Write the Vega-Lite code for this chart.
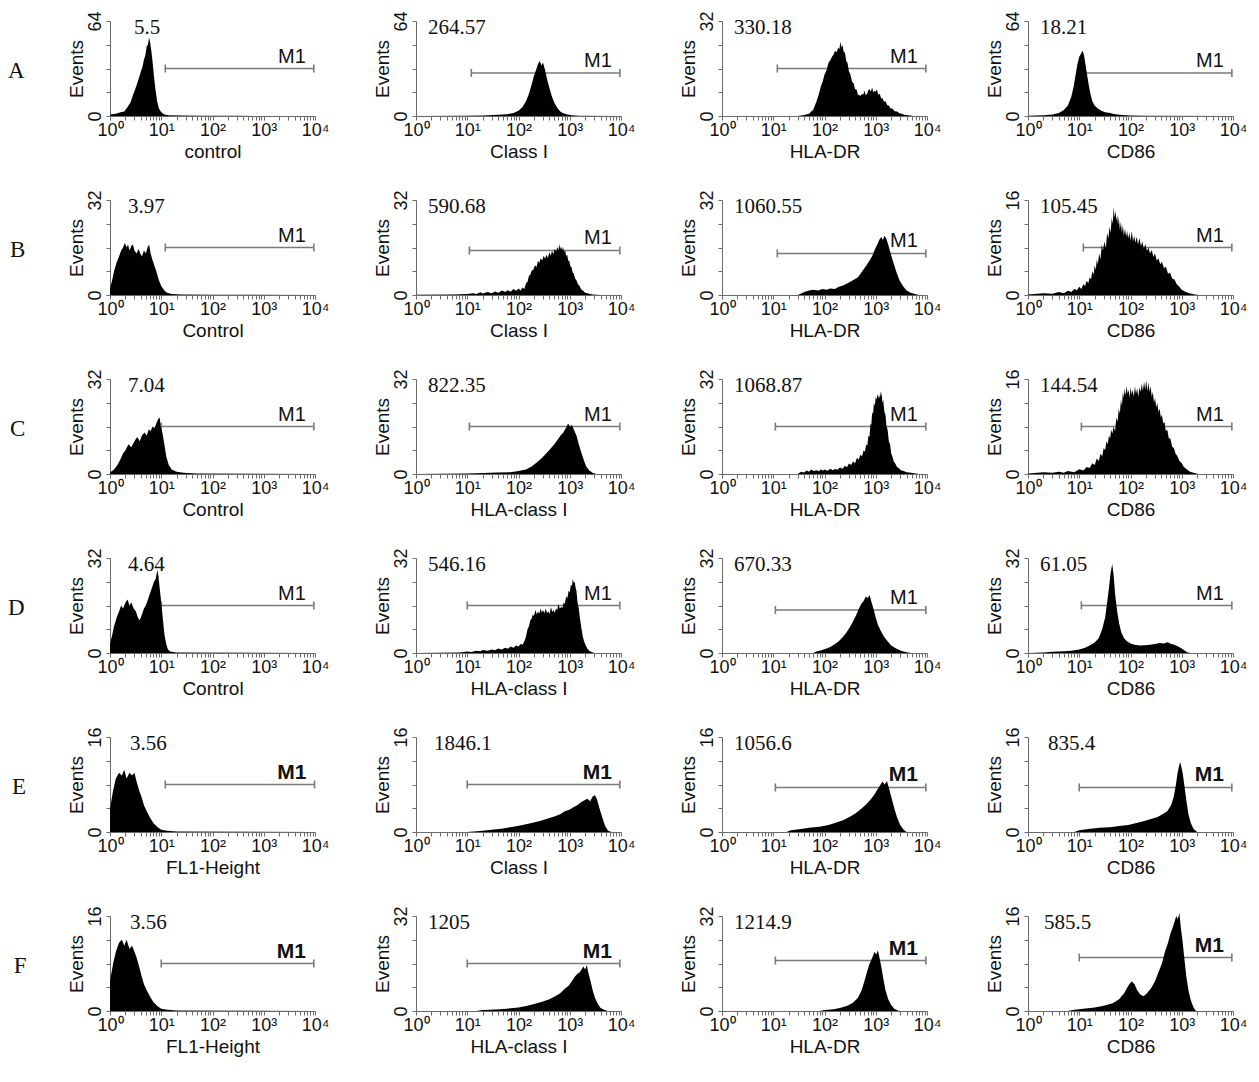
{
"$schema":"https://vega.github.io/schema/vega-lite/v6.json",
"background":"white",
"padding":{"left":8,"top":10,"right":5,"bottom":5},
"spacing":28,
"config":{
 "view":{"stroke":null},
 "concat":{"spacing":44},
 "area":{"color":"#000","interpolate":"linear","opacity":1},
 "line":{"color":"#7a7a7a","strokeWidth":1.6},
 "point":{"shape":"M0,-1L0,1","filled":false,"color":"#7a7a7a","size":64,"strokeWidth":1.6,"opacity":1},
 "text":{"align":"right","baseline":"alphabetic","dx":-8,"dy":-6,"font":"Liberation Sans","fontSize":20,"color":"#111"},
 "title":{"font":"Liberation Serif","fontSize":21,"fontWeight":"normal","anchor":"start","frame":"group","color":"#111","offset":-27,"dx":12},
 "axis":{"grid":false,"domainColor":"#6a6a6a","tickColor":"#6a6a6a","tickSize":4,"labelFont":"Liberation Sans","labelFontSize":18,"labelColor":"#111","titleFont":"Liberation Sans","titleFontSize":19,"titleFontWeight":"normal","titleColor":"#111","labelFlush":false,"labelOverlap":false},
 "axisX":{"tickCount":10,"labelPadding":1,"titlePadding":3,"labelExpr":"abs(log(datum.value)/LN10 - round(log(datum.value)/LN10)) < 0.001 ? '10' + ['⁰','¹','²','³','⁴'][round(log(datum.value)/LN10)] : ''"},
 "axisY":{"labelAngle":-90,"labelPadding":2,"titlePadding":0,"labelExpr":"datum.index == 0 || datum.index == 1 ? datum.label : ''"}
},
"datasets":{
"g":[
{"p":"A1","x":12,"y":32},{"p":"A1","x":9500,"y":32,"t":"M1"},
{"p":"A2","x":12,"y":29},{"p":"A2","x":9500,"y":29,"t":"M1"},
{"p":"A3","x":12,"y":16},{"p":"A3","x":9500,"y":16,"t":"M1"},
{"p":"A4","x":12,"y":29},{"p":"A4","x":9500,"y":29,"t":"M1"},
{"p":"B1","x":12,"y":16},{"p":"B1","x":9500,"y":16,"t":"M1"},
{"p":"B2","x":11,"y":15},{"p":"B2","x":9500,"y":15,"t":"M1"},
{"p":"B3","x":12,"y":14},{"p":"B3","x":9500,"y":14,"t":"M1"},
{"p":"B4","x":12,"y":8},{"p":"B4","x":9500,"y":8,"t":"M1"},
{"p":"C1","x":10,"y":16},{"p":"C1","x":9500,"y":16,"t":"M1"},
{"p":"C2","x":11,"y":16},{"p":"C2","x":9500,"y":16,"t":"M1"},
{"p":"C3","x":11,"y":16},{"p":"C3","x":9500,"y":16,"t":"M1"},
{"p":"C4","x":11,"y":8},{"p":"C4","x":9500,"y":8,"t":"M1"},
{"p":"D1","x":10,"y":16},{"p":"D1","x":9500,"y":16,"t":"M1"},
{"p":"D2","x":10,"y":16},{"p":"D2","x":9500,"y":16,"t":"M1"},
{"p":"D3","x":11,"y":14.5},{"p":"D3","x":9500,"y":14.5,"t":"M1"},
{"p":"D4","x":11,"y":16},{"p":"D4","x":9500,"y":16,"t":"M1"},
{"p":"E1","x":12,"y":8},{"p":"E1","x":9800,"y":8,"t":"M1"},
{"p":"E2","x":10,"y":8},{"p":"E2","x":9500,"y":8,"t":"M1"},
{"p":"E3","x":11,"y":7.5},{"p":"E3","x":9500,"y":7.5,"t":"M1"},
{"p":"E4","x":10,"y":7.5},{"p":"E4","x":9500,"y":7.5,"t":"M1"},
{"p":"F1","x":10,"y":8},{"p":"F1","x":9500,"y":8,"t":"M1"},
{"p":"F2","x":10,"y":16},{"p":"F2","x":9500,"y":16,"t":"M1"},
{"p":"F3","x":11,"y":17},{"p":"F3","x":9500,"y":17,"t":"M1"},
{"p":"F4","x":10,"y":9},{"p":"F4","x":9500,"y":9,"t":"M1"}
],
"h":[
{"p":"A1","x":1,"y":1},{"p":"A1","x":1.3,"y":1.5},{"p":"A1","x":1.6,"y":2.5},{"p":"A1","x":1.9,"y":3},{"p":"A1","x":2.2,"y":6},{"p":"A1","x":2.5,"y":9},{"p":"A1","x":2.8,"y":14},{"p":"A1","x":3.1,"y":18},{"p":"A1","x":3.4,"y":22},{"p":"A1","x":3.7,"y":26},{"p":"A1","x":4,"y":30},{"p":"A1","x":4.3,"y":33},{"p":"A1","x":4.6,"y":38},{"p":"A1","x":4.9,"y":41},{"p":"A1","x":5.2,"y":47},{"p":"A1","x":5.5,"y":48},{"p":"A1","x":5.8,"y":53},{"p":"A1","x":6.1,"y":49},{"p":"A1","x":6.4,"y":44},{"p":"A1","x":6.8,"y":36},{"p":"A1","x":7.2,"y":27},{"p":"A1","x":7.7,"y":18},{"p":"A1","x":8.3,"y":10},{"p":"A1","x":9,"y":5},{"p":"A1","x":10,"y":2.5},{"p":"A1","x":11.5,"y":1},{"p":"A1","x":14,"y":0.5},{"p":"A1","x":25,"y":0.3},{"p":"A1","x":60,"y":0.2},{"p":"A1","x":300,"y":0.1},{"p":"A1","x":10000,"y":0},
{"p":"A2","x":1,"y":0},{"p":"A2","x":8,"y":0.2},{"p":"A2","x":20,"y":0.4},{"p":"A2","x":40,"y":0.8},{"p":"A2","x":60,"y":1.2},{"p":"A2","x":80,"y":2},{"p":"A2","x":100,"y":3.5},{"p":"A2","x":120,"y":6},{"p":"A2","x":140,"y":10},{"p":"A2","x":160,"y":15},{"p":"A2","x":180,"y":21},{"p":"A2","x":200,"y":27},{"p":"A2","x":220,"y":31},{"p":"A2","x":240,"y":35},{"p":"A2","x":260,"y":37},{"p":"A2","x":280,"y":34},{"p":"A2","x":300,"y":36},{"p":"A2","x":330,"y":31},{"p":"A2","x":360,"y":25},{"p":"A2","x":400,"y":19},{"p":"A2","x":450,"y":13},{"p":"A2","x":500,"y":9},{"p":"A2","x":570,"y":5.5},{"p":"A2","x":650,"y":3},{"p":"A2","x":750,"y":1.8},{"p":"A2","x":900,"y":1},{"p":"A2","x":1100,"y":0.5},{"p":"A2","x":1500,"y":0.2},{"p":"A2","x":10000,"y":0},
{"p":"A3","x":1,"y":0},{"p":"A3","x":30,"y":0},{"p":"A3","x":40,"y":0.3},{"p":"A3","x":50,"y":0.8},{"p":"A3","x":55,"y":1.5},{"p":"A3","x":60,"y":2},{"p":"A3","x":65,"y":3.5},{"p":"A3","x":70,"y":5},{"p":"A3","x":77,"y":7.2},{"p":"A3","x":85,"y":10},{"p":"A3","x":92,"y":11.5},{"p":"A3","x":100,"y":14},{"p":"A3","x":110,"y":15.5},{"p":"A3","x":120,"y":18},{"p":"A3","x":130,"y":18.8},{"p":"A3","x":140,"y":20},{"p":"A3","x":150,"y":20.6},{"p":"A3","x":160,"y":22},{"p":"A3","x":172,"y":21.5},{"p":"A3","x":185,"y":23},{"p":"A3","x":195,"y":22.5},{"p":"A3","x":205,"y":25},{"p":"A3","x":215,"y":23},{"p":"A3","x":225,"y":24},{"p":"A3","x":237,"y":21.5},{"p":"A3","x":250,"y":21.5},{"p":"A3","x":265,"y":18.5},{"p":"A3","x":280,"y":18},{"p":"A3","x":300,"y":15},{"p":"A3","x":320,"y":14},{"p":"A3","x":345,"y":11.5},{"p":"A3","x":370,"y":11},{"p":"A3","x":395,"y":9},{"p":"A3","x":420,"y":9},{"p":"A3","x":450,"y":7.2},{"p":"A3","x":480,"y":7},{"p":"A3","x":510,"y":6.8},{"p":"A3","x":540,"y":7.5},{"p":"A3","x":570,"y":7.2},{"p":"A3","x":600,"y":8.5},{"p":"A3","x":640,"y":7},{"p":"A3","x":680,"y":7.5},{"p":"A3","x":720,"y":8.8},{"p":"A3","x":760,"y":9},{"p":"A3","x":800,"y":8.2},{"p":"A3","x":850,"y":9.5},{"p":"A3","x":900,"y":8},{"p":"A3","x":950,"y":8.5},{"p":"A3","x":1000,"y":8.2},{"p":"A3","x":1050,"y":9},{"p":"A3","x":1120,"y":7.2},{"p":"A3","x":1200,"y":7.5},{"p":"A3","x":1270,"y":6},{"p":"A3","x":1350,"y":6},{"p":"A3","x":1450,"y":4.8},{"p":"A3","x":1550,"y":5},{"p":"A3","x":1680,"y":3.6},{"p":"A3","x":1800,"y":3.5},{"p":"A3","x":1950,"y":2.5},{"p":"A3","x":2100,"y":2.5},{"p":"A3","x":2350,"y":1.6},{"p":"A3","x":2600,"y":1.5},{"p":"A3","x":2900,"y":0.9},{"p":"A3","x":3200,"y":0.8},{"p":"A3","x":3600,"y":0.4},{"p":"A3","x":4000,"y":0.3},{"p":"A3","x":5500,"y":0},{"p":"A3","x":10000,"y":0},
{"p":"A4","x":1,"y":0.2},{"p":"A4","x":2,"y":0.5},{"p":"A4","x":3,"y":1},{"p":"A4","x":4,"y":2},{"p":"A4","x":5,"y":4},{"p":"A4","x":6,"y":7},{"p":"A4","x":7,"y":13},{"p":"A4","x":7.8,"y":20},{"p":"A4","x":8.5,"y":28},{"p":"A4","x":9.2,"y":35},{"p":"A4","x":10,"y":40},{"p":"A4","x":10.8,"y":42},{"p":"A4","x":11.6,"y":44},{"p":"A4","x":12.4,"y":41},{"p":"A4","x":13.2,"y":35},{"p":"A4","x":14.2,"y":28},{"p":"A4","x":15.3,"y":21},{"p":"A4","x":16.5,"y":15},{"p":"A4","x":18,"y":10},{"p":"A4","x":20,"y":7},{"p":"A4","x":23,"y":5},{"p":"A4","x":27,"y":3.5},{"p":"A4","x":32,"y":2.5},{"p":"A4","x":40,"y":2},{"p":"A4","x":50,"y":1.2},{"p":"A4","x":70,"y":0.6},{"p":"A4","x":100,"y":0.3},{"p":"A4","x":200,"y":0.1},{"p":"A4","x":10000,"y":0},
{"p":"B1","x":1,"y":2},{"p":"B1","x":1.1,"y":5},{"p":"B1","x":1.2,"y":8},{"p":"B1","x":1.35,"y":11},{"p":"B1","x":1.5,"y":13},{"p":"B1","x":1.65,"y":15},{"p":"B1","x":1.8,"y":16},{"p":"B1","x":1.95,"y":17.5},{"p":"B1","x":2.1,"y":16},{"p":"B1","x":2.25,"y":17},{"p":"B1","x":2.4,"y":15},{"p":"B1","x":2.6,"y":16.5},{"p":"B1","x":2.8,"y":17},{"p":"B1","x":3,"y":15},{"p":"B1","x":3.3,"y":14},{"p":"B1","x":3.6,"y":15.5},{"p":"B1","x":3.9,"y":14},{"p":"B1","x":4.2,"y":13},{"p":"B1","x":4.6,"y":15},{"p":"B1","x":5,"y":14},{"p":"B1","x":5.4,"y":16},{"p":"B1","x":5.8,"y":17},{"p":"B1","x":6.2,"y":14},{"p":"B1","x":6.7,"y":12},{"p":"B1","x":7.3,"y":10},{"p":"B1","x":8,"y":8},{"p":"B1","x":9,"y":5},{"p":"B1","x":10,"y":3},{"p":"B1","x":11.5,"y":1.5},{"p":"B1","x":13,"y":0.8},{"p":"B1","x":16,"y":0.3},{"p":"B1","x":25,"y":0.2},{"p":"B1","x":100,"y":0.1},{"p":"B1","x":10000,"y":0},
{"p":"B2","x":1,"y":0.1},{"p":"B2","x":5,"y":0.2},{"p":"B2","x":10,"y":0.3},{"p":"B2","x":13,"y":0.6},{"p":"B2","x":15,"y":0.3},{"p":"B2","x":18,"y":0.9},{"p":"B2","x":20,"y":0.5},{"p":"B2","x":25,"y":1},{"p":"B2","x":30,"y":0.6},{"p":"B2","x":35,"y":1.2},{"p":"B2","x":40,"y":0.8},{"p":"B2","x":48,"y":1.5},{"p":"B2","x":55,"y":1},{"p":"B2","x":62,"y":1.6},{"p":"B2","x":70,"y":1.1},{"p":"B2","x":80,"y":2},{"p":"B2","x":90,"y":1.4},{"p":"B2","x":100,"y":2.2},{"p":"B2","x":110,"y":1.5},{"p":"B2","x":120,"y":2.5},{"p":"B2","x":130,"y":2},{"p":"B2","x":140,"y":4},{"p":"B2","x":150,"y":4.5},{"p":"B2","x":160,"y":6.5},{"p":"B2","x":170,"y":6.8},{"p":"B2","x":180,"y":8.2},{"p":"B2","x":195,"y":8.5},{"p":"B2","x":210,"y":10},{"p":"B2","x":225,"y":9.4},{"p":"B2","x":240,"y":11.5},{"p":"B2","x":255,"y":10.8},{"p":"B2","x":270,"y":12.4},{"p":"B2","x":290,"y":11.6},{"p":"B2","x":310,"y":13.2},{"p":"B2","x":330,"y":12.2},{"p":"B2","x":350,"y":13.6},{"p":"B2","x":375,"y":12.5},{"p":"B2","x":400,"y":14.4},{"p":"B2","x":425,"y":13.2},{"p":"B2","x":450,"y":14.8},{"p":"B2","x":480,"y":13.8},{"p":"B2","x":510,"y":15.6},{"p":"B2","x":540,"y":14.6},{"p":"B2","x":570,"y":16.2},{"p":"B2","x":600,"y":15},{"p":"B2","x":625,"y":17.2},{"p":"B2","x":650,"y":15.4},{"p":"B2","x":680,"y":16.4},{"p":"B2","x":710,"y":15},{"p":"B2","x":740,"y":16.2},{"p":"B2","x":775,"y":14.5},{"p":"B2","x":810,"y":15.2},{"p":"B2","x":850,"y":13.2},{"p":"B2","x":890,"y":13.6},{"p":"B2","x":935,"y":11.5},{"p":"B2","x":980,"y":11.5},{"p":"B2","x":1030,"y":9.6},{"p":"B2","x":1080,"y":9.4},{"p":"B2","x":1140,"y":7.6},{"p":"B2","x":1200,"y":7.2},{"p":"B2","x":1270,"y":5.6},{"p":"B2","x":1350,"y":5},{"p":"B2","x":1450,"y":3.6},{"p":"B2","x":1550,"y":3},{"p":"B2","x":1700,"y":1.8},{"p":"B2","x":1800,"y":1.5},{"p":"B2","x":2000,"y":0.8},{"p":"B2","x":2200,"y":0.6},{"p":"B2","x":2500,"y":0.3},{"p":"B2","x":2800,"y":0.2},{"p":"B2","x":4000,"y":0},{"p":"B2","x":10000,"y":0},
{"p":"B3","x":1,"y":0},{"p":"B3","x":30,"y":0},{"p":"B3","x":35,"y":0.5},{"p":"B3","x":40,"y":1},{"p":"B3","x":50,"y":1.5},{"p":"B3","x":60,"y":1.8},{"p":"B3","x":75,"y":1.5},{"p":"B3","x":90,"y":2},{"p":"B3","x":110,"y":1.8},{"p":"B3","x":130,"y":2.2},{"p":"B3","x":160,"y":2},{"p":"B3","x":190,"y":2.8},{"p":"B3","x":230,"y":3.2},{"p":"B3","x":270,"y":3.8},{"p":"B3","x":320,"y":4.5},{"p":"B3","x":380,"y":5.2},{"p":"B3","x":450,"y":6},{"p":"B3","x":520,"y":7.5},{"p":"B3","x":600,"y":9},{"p":"B3","x":690,"y":10.5},{"p":"B3","x":780,"y":12},{"p":"B3","x":870,"y":13.5},{"p":"B3","x":970,"y":15.5},{"p":"B3","x":1070,"y":17},{"p":"B3","x":1170,"y":18.5},{"p":"B3","x":1280,"y":19.5},{"p":"B3","x":1380,"y":18.5},{"p":"B3","x":1480,"y":20},{"p":"B3","x":1600,"y":19},{"p":"B3","x":1750,"y":17},{"p":"B3","x":1950,"y":14},{"p":"B3","x":2200,"y":11},{"p":"B3","x":2500,"y":8},{"p":"B3","x":2900,"y":5},{"p":"B3","x":3400,"y":3},{"p":"B3","x":4000,"y":1.5},{"p":"B3","x":4800,"y":0.8},{"p":"B3","x":5800,"y":0.3},{"p":"B3","x":7000,"y":0},{"p":"B3","x":10000,"y":0},
{"p":"B4","x":1,"y":0.1},{"p":"B4","x":2,"y":0.3},{"p":"B4","x":3,"y":0.2},{"p":"B4","x":4,"y":0.5},{"p":"B4","x":5,"y":0.3},{"p":"B4","x":6,"y":0.7},{"p":"B4","x":7,"y":0.5},{"p":"B4","x":8,"y":1},{"p":"B4","x":9,"y":0.8},{"p":"B4","x":10,"y":1.4},{"p":"B4","x":11,"y":1},{"p":"B4","x":12,"y":1.8},{"p":"B4","x":13,"y":1.5},{"p":"B4","x":14,"y":2.4},{"p":"B4","x":15,"y":2},{"p":"B4","x":16,"y":3},{"p":"B4","x":17,"y":2.6},{"p":"B4","x":18,"y":4},{"p":"B4","x":19,"y":3.4},{"p":"B4","x":20,"y":5},{"p":"B4","x":21,"y":4.2},{"p":"B4","x":22,"y":6},{"p":"B4","x":23,"y":5.2},{"p":"B4","x":24.5,"y":7},{"p":"B4","x":26,"y":6},{"p":"B4","x":27.5,"y":8.5},{"p":"B4","x":29,"y":7.5},{"p":"B4","x":31,"y":9},{"p":"B4","x":33,"y":7.8},{"p":"B4","x":35,"y":10.5},{"p":"B4","x":37,"y":9.5},{"p":"B4","x":39,"y":11.5},{"p":"B4","x":41,"y":10.5},{"p":"B4","x":43,"y":13},{"p":"B4","x":45,"y":12},{"p":"B4","x":47,"y":14.8},{"p":"B4","x":49,"y":13},{"p":"B4","x":51,"y":14.2},{"p":"B4","x":53,"y":12.5},{"p":"B4","x":55,"y":13.5},{"p":"B4","x":57,"y":11.8},{"p":"B4","x":59,"y":13.2},{"p":"B4","x":62,"y":11},{"p":"B4","x":65,"y":12.3},{"p":"B4","x":68,"y":10.5},{"p":"B4","x":71,"y":11.8},{"p":"B4","x":74,"y":10},{"p":"B4","x":78,"y":11.2},{"p":"B4","x":82,"y":9.8},{"p":"B4","x":86,"y":10.8},{"p":"B4","x":90,"y":9.5},{"p":"B4","x":95,"y":10.5},{"p":"B4","x":100,"y":9.2},{"p":"B4","x":106,"y":10.8},{"p":"B4","x":112,"y":9},{"p":"B4","x":118,"y":10},{"p":"B4","x":125,"y":8.8},{"p":"B4","x":132,"y":9.8},{"p":"B4","x":140,"y":8.5},{"p":"B4","x":150,"y":9.6},{"p":"B4","x":160,"y":8.2},{"p":"B4","x":170,"y":9},{"p":"B4","x":182,"y":7.8},{"p":"B4","x":195,"y":8.6},{"p":"B4","x":210,"y":7.4},{"p":"B4","x":225,"y":8},{"p":"B4","x":240,"y":7},{"p":"B4","x":260,"y":7.6},{"p":"B4","x":280,"y":6.4},{"p":"B4","x":300,"y":7},{"p":"B4","x":325,"y":5.8},{"p":"B4","x":350,"y":6.2},{"p":"B4","x":380,"y":5.2},{"p":"B4","x":410,"y":5.6},{"p":"B4","x":450,"y":4.5},{"p":"B4","x":490,"y":4.8},{"p":"B4","x":540,"y":3.6},{"p":"B4","x":590,"y":3.8},{"p":"B4","x":650,"y":2.8},{"p":"B4","x":720,"y":2.6},{"p":"B4","x":800,"y":1.8},{"p":"B4","x":900,"y":1.4},{"p":"B4","x":1000,"y":0.9},{"p":"B4","x":1150,"y":0.6},{"p":"B4","x":1400,"y":0.3},{"p":"B4","x":1800,"y":0.1},{"p":"B4","x":2200,"y":0},{"p":"B4","x":10000,"y":0},
{"p":"C1","x":1,"y":0.5},{"p":"C1","x":1.2,"y":1.5},{"p":"C1","x":1.4,"y":3},{"p":"C1","x":1.6,"y":5},{"p":"C1","x":1.8,"y":7},{"p":"C1","x":2,"y":8},{"p":"C1","x":2.3,"y":10},{"p":"C1","x":2.6,"y":9},{"p":"C1","x":3,"y":11},{"p":"C1","x":3.4,"y":12.5},{"p":"C1","x":3.8,"y":11},{"p":"C1","x":4.2,"y":13},{"p":"C1","x":4.7,"y":14},{"p":"C1","x":5.2,"y":13},{"p":"C1","x":5.7,"y":15},{"p":"C1","x":6.2,"y":14.5},{"p":"C1","x":6.8,"y":16},{"p":"C1","x":7.4,"y":15.5},{"p":"C1","x":8,"y":17},{"p":"C1","x":8.7,"y":18.5},{"p":"C1","x":9.3,"y":19},{"p":"C1","x":9.8,"y":16},{"p":"C1","x":10.5,"y":14},{"p":"C1","x":11.5,"y":10},{"p":"C1","x":12.5,"y":6},{"p":"C1","x":14,"y":3},{"p":"C1","x":16,"y":1.5},{"p":"C1","x":20,"y":0.8},{"p":"C1","x":27,"y":0.4},{"p":"C1","x":50,"y":0.2},{"p":"C1","x":10000,"y":0},
{"p":"C2","x":1,"y":0},{"p":"C2","x":10,"y":0.2},{"p":"C2","x":20,"y":0.3},{"p":"C2","x":40,"y":0.5},{"p":"C2","x":70,"y":0.6},{"p":"C2","x":100,"y":1},{"p":"C2","x":140,"y":1.5},{"p":"C2","x":180,"y":2.5},{"p":"C2","x":230,"y":4},{"p":"C2","x":290,"y":5.5},{"p":"C2","x":350,"y":7},{"p":"C2","x":420,"y":8.5},{"p":"C2","x":500,"y":10},{"p":"C2","x":580,"y":11.5},{"p":"C2","x":660,"y":13},{"p":"C2","x":750,"y":14},{"p":"C2","x":840,"y":15.5},{"p":"C2","x":930,"y":17},{"p":"C2","x":1000,"y":16},{"p":"C2","x":1100,"y":16.5},{"p":"C2","x":1200,"y":15},{"p":"C2","x":1350,"y":13},{"p":"C2","x":1500,"y":10},{"p":"C2","x":1700,"y":7},{"p":"C2","x":1900,"y":4.5},{"p":"C2","x":2100,"y":2.5},{"p":"C2","x":2400,"y":1.2},{"p":"C2","x":2800,"y":0.4},{"p":"C2","x":3300,"y":0},{"p":"C2","x":10000,"y":0},
{"p":"C3","x":1,"y":0},{"p":"C3","x":30,"y":0},{"p":"C3","x":35,"y":0.8},{"p":"C3","x":40,"y":0.5},{"p":"C3","x":45,"y":1.2},{"p":"C3","x":50,"y":0.8},{"p":"C3","x":55,"y":1.5},{"p":"C3","x":62,"y":1},{"p":"C3","x":70,"y":1.3},{"p":"C3","x":78,"y":0.9},{"p":"C3","x":85,"y":1.6},{"p":"C3","x":92,"y":1.1},{"p":"C3","x":100,"y":1.5},{"p":"C3","x":115,"y":1.1},{"p":"C3","x":130,"y":1.8},{"p":"C3","x":145,"y":1.3},{"p":"C3","x":160,"y":1.7},{"p":"C3","x":180,"y":1.4},{"p":"C3","x":200,"y":2.2},{"p":"C3","x":225,"y":1.8},{"p":"C3","x":250,"y":2.8},{"p":"C3","x":275,"y":2.3},{"p":"C3","x":300,"y":3.5},{"p":"C3","x":330,"y":3},{"p":"C3","x":360,"y":4.2},{"p":"C3","x":395,"y":3.6},{"p":"C3","x":430,"y":5.5},{"p":"C3","x":465,"y":4.8},{"p":"C3","x":500,"y":6.5},{"p":"C3","x":540,"y":6},{"p":"C3","x":580,"y":8},{"p":"C3","x":615,"y":7.5},{"p":"C3","x":650,"y":10},{"p":"C3","x":685,"y":9.5},{"p":"C3","x":720,"y":13},{"p":"C3","x":755,"y":12.5},{"p":"C3","x":790,"y":17},{"p":"C3","x":820,"y":16.5},{"p":"C3","x":850,"y":21},{"p":"C3","x":885,"y":20},{"p":"C3","x":920,"y":24},{"p":"C3","x":960,"y":23},{"p":"C3","x":1000,"y":26},{"p":"C3","x":1040,"y":25},{"p":"C3","x":1080,"y":27},{"p":"C3","x":1115,"y":25.5},{"p":"C3","x":1150,"y":26.5},{"p":"C3","x":1190,"y":25.5},{"p":"C3","x":1220,"y":28},{"p":"C3","x":1260,"y":26},{"p":"C3","x":1300,"y":27.5},{"p":"C3","x":1350,"y":24},{"p":"C3","x":1400,"y":25},{"p":"C3","x":1470,"y":21},{"p":"C3","x":1550,"y":20},{"p":"C3","x":1620,"y":16},{"p":"C3","x":1700,"y":15},{"p":"C3","x":1800,"y":11},{"p":"C3","x":1900,"y":10},{"p":"C3","x":2000,"y":7},{"p":"C3","x":2100,"y":6},{"p":"C3","x":2250,"y":4.2},{"p":"C3","x":2400,"y":3.5},{"p":"C3","x":2600,"y":2.4},{"p":"C3","x":2800,"y":2},{"p":"C3","x":3100,"y":1.3},{"p":"C3","x":3500,"y":1},{"p":"C3","x":4000,"y":0.6},{"p":"C3","x":4500,"y":0.5},{"p":"C3","x":5200,"y":0.3},{"p":"C3","x":6000,"y":0.2},{"p":"C3","x":7000,"y":0},{"p":"C3","x":10000,"y":0},
{"p":"C4","x":1,"y":0.1},{"p":"C4","x":2,"y":0.3},{"p":"C4","x":3,"y":0.2},{"p":"C4","x":4,"y":0.4},{"p":"C4","x":5,"y":0.2},{"p":"C4","x":6,"y":0.5},{"p":"C4","x":8,"y":0.3},{"p":"C4","x":10,"y":0.8},{"p":"C4","x":12,"y":0.6},{"p":"C4","x":14,"y":1.2},{"p":"C4","x":16,"y":1},{"p":"C4","x":18,"y":1.8},{"p":"C4","x":20,"y":1.5},{"p":"C4","x":22,"y":2.6},{"p":"C4","x":24,"y":2.2},{"p":"C4","x":26,"y":3.4},{"p":"C4","x":28,"y":3},{"p":"C4","x":30,"y":4.4},{"p":"C4","x":32,"y":4},{"p":"C4","x":34,"y":5.5},{"p":"C4","x":36,"y":5},{"p":"C4","x":38,"y":6.5},{"p":"C4","x":40,"y":6},{"p":"C4","x":42,"y":7.5},{"p":"C4","x":44,"y":6.8},{"p":"C4","x":47,"y":8},{"p":"C4","x":50,"y":7.2},{"p":"C4","x":53,"y":9.5},{"p":"C4","x":56,"y":8.8},{"p":"C4","x":59,"y":11},{"p":"C4","x":62,"y":10.2},{"p":"C4","x":65,"y":12.5},{"p":"C4","x":68,"y":11.5},{"p":"C4","x":71,"y":13.8},{"p":"C4","x":74,"y":12.8},{"p":"C4","x":77,"y":14.5},{"p":"C4","x":80,"y":13.2},{"p":"C4","x":84,"y":14.8},{"p":"C4","x":88,"y":13.5},{"p":"C4","x":92,"y":14.2},{"p":"C4","x":96,"y":12.8},{"p":"C4","x":100,"y":14.6},{"p":"C4","x":105,"y":13.4},{"p":"C4","x":110,"y":14.2},{"p":"C4","x":116,"y":13},{"p":"C4","x":122,"y":14.8},{"p":"C4","x":128,"y":13.5},{"p":"C4","x":135,"y":14.4},{"p":"C4","x":142,"y":13},{"p":"C4","x":150,"y":14.6},{"p":"C4","x":158,"y":13.8},{"p":"C4","x":166,"y":15.2},{"p":"C4","x":175,"y":14},{"p":"C4","x":184,"y":15.6},{"p":"C4","x":193,"y":14.2},{"p":"C4","x":203,"y":15.8},{"p":"C4","x":213,"y":14},{"p":"C4","x":224,"y":15.4},{"p":"C4","x":235,"y":13.8},{"p":"C4","x":247,"y":14.8},{"p":"C4","x":260,"y":13},{"p":"C4","x":273,"y":13.8},{"p":"C4","x":287,"y":12},{"p":"C4","x":302,"y":12.8},{"p":"C4","x":317,"y":11.2},{"p":"C4","x":333,"y":12},{"p":"C4","x":350,"y":10.5},{"p":"C4","x":370,"y":11},{"p":"C4","x":390,"y":9.5},{"p":"C4","x":410,"y":10},{"p":"C4","x":435,"y":8.5},{"p":"C4","x":460,"y":8.8},{"p":"C4","x":490,"y":7.2},{"p":"C4","x":520,"y":7.5},{"p":"C4","x":560,"y":6},{"p":"C4","x":600,"y":6},{"p":"C4","x":650,"y":4.6},{"p":"C4","x":700,"y":4.4},{"p":"C4","x":760,"y":3.4},{"p":"C4","x":830,"y":3},{"p":"C4","x":900,"y":2.2},{"p":"C4","x":1000,"y":1.8},{"p":"C4","x":1100,"y":1.2},{"p":"C4","x":1250,"y":0.8},{"p":"C4","x":1450,"y":0.4},{"p":"C4","x":1700,"y":0.2},{"p":"C4","x":2100,"y":0},{"p":"C4","x":10000,"y":0},
{"p":"D1","x":1,"y":3},{"p":"D1","x":1.1,"y":6},{"p":"D1","x":1.2,"y":9},{"p":"D1","x":1.35,"y":12},{"p":"D1","x":1.5,"y":14},{"p":"D1","x":1.65,"y":16},{"p":"D1","x":1.8,"y":15},{"p":"D1","x":2,"y":17},{"p":"D1","x":2.2,"y":18},{"p":"D1","x":2.4,"y":16},{"p":"D1","x":2.6,"y":17},{"p":"D1","x":2.9,"y":15},{"p":"D1","x":3.2,"y":14},{"p":"D1","x":3.5,"y":12},{"p":"D1","x":3.8,"y":11},{"p":"D1","x":4.2,"y":13},{"p":"D1","x":4.6,"y":15},{"p":"D1","x":5,"y":16},{"p":"D1","x":5.5,"y":18},{"p":"D1","x":6,"y":20},{"p":"D1","x":6.6,"y":22},{"p":"D1","x":7.2,"y":24},{"p":"D1","x":7.8,"y":25},{"p":"D1","x":8.4,"y":28},{"p":"D1","x":8.8,"y":26},{"p":"D1","x":9.3,"y":22},{"p":"D1","x":10,"y":17},{"p":"D1","x":10.8,"y":11},{"p":"D1","x":11.6,"y":6},{"p":"D1","x":12.5,"y":3},{"p":"D1","x":13.5,"y":1.2},{"p":"D1","x":15,"y":0.5},{"p":"D1","x":20,"y":0.2},{"p":"D1","x":10000,"y":0},
{"p":"D2","x":1,"y":0},{"p":"D2","x":7,"y":0.2},{"p":"D2","x":10,"y":0.5},{"p":"D2","x":12,"y":0.3},{"p":"D2","x":15,"y":0.8},{"p":"D2","x":18,"y":0.6},{"p":"D2","x":20,"y":1},{"p":"D2","x":25,"y":0.8},{"p":"D2","x":30,"y":1.2},{"p":"D2","x":35,"y":0.9},{"p":"D2","x":40,"y":1.5},{"p":"D2","x":47,"y":1.2},{"p":"D2","x":55,"y":1.8},{"p":"D2","x":62,"y":1.4},{"p":"D2","x":70,"y":2.2},{"p":"D2","x":80,"y":1.8},{"p":"D2","x":90,"y":2.5},{"p":"D2","x":100,"y":2.2},{"p":"D2","x":110,"y":3},{"p":"D2","x":120,"y":2.8},{"p":"D2","x":130,"y":4},{"p":"D2","x":140,"y":5.5},{"p":"D2","x":150,"y":8},{"p":"D2","x":160,"y":9},{"p":"D2","x":170,"y":11},{"p":"D2","x":180,"y":11.5},{"p":"D2","x":190,"y":13},{"p":"D2","x":200,"y":12.5},{"p":"D2","x":215,"y":14.5},{"p":"D2","x":228,"y":13},{"p":"D2","x":240,"y":14},{"p":"D2","x":255,"y":13.2},{"p":"D2","x":270,"y":15},{"p":"D2","x":285,"y":13.6},{"p":"D2","x":300,"y":14.5},{"p":"D2","x":320,"y":13.4},{"p":"D2","x":340,"y":15},{"p":"D2","x":360,"y":13.5},{"p":"D2","x":380,"y":14},{"p":"D2","x":405,"y":13.2},{"p":"D2","x":430,"y":15.5},{"p":"D2","x":455,"y":13.8},{"p":"D2","x":480,"y":14.5},{"p":"D2","x":510,"y":13.6},{"p":"D2","x":540,"y":15},{"p":"D2","x":570,"y":14.5},{"p":"D2","x":600,"y":16.5},{"p":"D2","x":640,"y":15},{"p":"D2","x":680,"y":15.5},{"p":"D2","x":720,"y":15.2},{"p":"D2","x":760,"y":17},{"p":"D2","x":800,"y":16.5},{"p":"D2","x":850,"y":19},{"p":"D2","x":900,"y":18.5},{"p":"D2","x":950,"y":21},{"p":"D2","x":1000,"y":20.5},{"p":"D2","x":1050,"y":23},{"p":"D2","x":1100,"y":22.5},{"p":"D2","x":1150,"y":25},{"p":"D2","x":1200,"y":23.5},{"p":"D2","x":1250,"y":24},{"p":"D2","x":1300,"y":22},{"p":"D2","x":1350,"y":21},{"p":"D2","x":1420,"y":17},{"p":"D2","x":1500,"y":15},{"p":"D2","x":1600,"y":11},{"p":"D2","x":1700,"y":8},{"p":"D2","x":1800,"y":5.5},{"p":"D2","x":1900,"y":4},{"p":"D2","x":2050,"y":2.5},{"p":"D2","x":2200,"y":1.5},{"p":"D2","x":2400,"y":0.8},{"p":"D2","x":2600,"y":0.4},{"p":"D2","x":3000,"y":0},{"p":"D2","x":10000,"y":0},
{"p":"D3","x":1,"y":0},{"p":"D3","x":60,"y":0},{"p":"D3","x":70,"y":0.5},{"p":"D3","x":90,"y":1},{"p":"D3","x":110,"y":1.5},{"p":"D3","x":130,"y":2},{"p":"D3","x":160,"y":3},{"p":"D3","x":190,"y":4},{"p":"D3","x":230,"y":5.5},{"p":"D3","x":270,"y":7},{"p":"D3","x":320,"y":9},{"p":"D3","x":370,"y":11},{"p":"D3","x":420,"y":13},{"p":"D3","x":470,"y":15},{"p":"D3","x":520,"y":16.5},{"p":"D3","x":580,"y":17.5},{"p":"D3","x":640,"y":19},{"p":"D3","x":700,"y":18.5},{"p":"D3","x":760,"y":19.5},{"p":"D3","x":830,"y":17},{"p":"D3","x":900,"y":15},{"p":"D3","x":1000,"y":12},{"p":"D3","x":1100,"y":9.5},{"p":"D3","x":1250,"y":7.5},{"p":"D3","x":1450,"y":5.5},{"p":"D3","x":1700,"y":4},{"p":"D3","x":2000,"y":2.5},{"p":"D3","x":2500,"y":1.5},{"p":"D3","x":3200,"y":0.7},{"p":"D3","x":4200,"y":0.2},{"p":"D3","x":5000,"y":0},{"p":"D3","x":10000,"y":0},
{"p":"D4","x":1,"y":0},{"p":"D4","x":2,"y":0.2},{"p":"D4","x":3,"y":0.4},{"p":"D4","x":5,"y":0.6},{"p":"D4","x":7,"y":0.8},{"p":"D4","x":10,"y":1.2},{"p":"D4","x":13,"y":1.8},{"p":"D4","x":16,"y":2.5},{"p":"D4","x":20,"y":3.5},{"p":"D4","x":24,"y":5},{"p":"D4","x":28,"y":8},{"p":"D4","x":32,"y":12},{"p":"D4","x":35,"y":17},{"p":"D4","x":38,"y":22},{"p":"D4","x":41,"y":27},{"p":"D4","x":44,"y":30},{"p":"D4","x":47,"y":26},{"p":"D4","x":50,"y":20},{"p":"D4","x":55,"y":14},{"p":"D4","x":60,"y":10},{"p":"D4","x":66,"y":7},{"p":"D4","x":75,"y":5},{"p":"D4","x":85,"y":4},{"p":"D4","x":100,"y":3.2},{"p":"D4","x":120,"y":2.8},{"p":"D4","x":150,"y":2.5},{"p":"D4","x":190,"y":2.6},{"p":"D4","x":240,"y":2.8},{"p":"D4","x":300,"y":3},{"p":"D4","x":370,"y":3.4},{"p":"D4","x":450,"y":3.2},{"p":"D4","x":530,"y":3.6},{"p":"D4","x":620,"y":3},{"p":"D4","x":720,"y":2.8},{"p":"D4","x":850,"y":2.2},{"p":"D4","x":1000,"y":1.5},{"p":"D4","x":1150,"y":0.8},{"p":"D4","x":1300,"y":0.2},{"p":"D4","x":1500,"y":0},{"p":"D4","x":10000,"y":0},
{"p":"E1","x":1,"y":4},{"p":"E1","x":1.15,"y":7},{"p":"E1","x":1.3,"y":9},{"p":"E1","x":1.5,"y":10},{"p":"E1","x":1.7,"y":9.5},{"p":"E1","x":1.9,"y":10.5},{"p":"E1","x":2.1,"y":9},{"p":"E1","x":2.4,"y":10},{"p":"E1","x":2.7,"y":9.5},{"p":"E1","x":3,"y":10},{"p":"E1","x":3.3,"y":8.5},{"p":"E1","x":3.7,"y":7},{"p":"E1","x":4.1,"y":6},{"p":"E1","x":4.6,"y":4.5},{"p":"E1","x":5.2,"y":3.5},{"p":"E1","x":6,"y":2.5},{"p":"E1","x":7,"y":1.5},{"p":"E1","x":8.5,"y":0.8},{"p":"E1","x":10,"y":0.4},{"p":"E1","x":13,"y":0.2},{"p":"E1","x":20,"y":0.1},{"p":"E1","x":10000,"y":0},
{"p":"E2","x":1,"y":0},{"p":"E2","x":10,"y":0},{"p":"E2","x":20,"y":0.2},{"p":"E2","x":30,"y":0.4},{"p":"E2","x":50,"y":0.6},{"p":"E2","x":80,"y":0.9},{"p":"E2","x":120,"y":1.2},{"p":"E2","x":180,"y":1.5},{"p":"E2","x":250,"y":1.8},{"p":"E2","x":350,"y":2.2},{"p":"E2","x":500,"y":2.6},{"p":"E2","x":650,"y":3},{"p":"E2","x":800,"y":3.5},{"p":"E2","x":1000,"y":3.8},{"p":"E2","x":1200,"y":4.2},{"p":"E2","x":1400,"y":4.5},{"p":"E2","x":1650,"y":5},{"p":"E2","x":1900,"y":5.3},{"p":"E2","x":2200,"y":5.6},{"p":"E2","x":2500,"y":5.2},{"p":"E2","x":2800,"y":6},{"p":"E2","x":3100,"y":6.2},{"p":"E2","x":3400,"y":5.5},{"p":"E2","x":3800,"y":4},{"p":"E2","x":4300,"y":2.5},{"p":"E2","x":4900,"y":1},{"p":"E2","x":5600,"y":0.2},{"p":"E2","x":6500,"y":0},{"p":"E2","x":10000,"y":0},
{"p":"E3","x":1,"y":0},{"p":"E3","x":18,"y":0},{"p":"E3","x":22,"y":0.3},{"p":"E3","x":35,"y":0.5},{"p":"E3","x":50,"y":0.7},{"p":"E3","x":80,"y":0.9},{"p":"E3","x":120,"y":1.2},{"p":"E3","x":170,"y":1.6},{"p":"E3","x":230,"y":2},{"p":"E3","x":300,"y":2.5},{"p":"E3","x":380,"y":3},{"p":"E3","x":470,"y":3.6},{"p":"E3","x":570,"y":4.2},{"p":"E3","x":680,"y":4.8},{"p":"E3","x":800,"y":5.5},{"p":"E3","x":920,"y":6.2},{"p":"E3","x":1050,"y":7},{"p":"E3","x":1200,"y":7.8},{"p":"E3","x":1350,"y":8.5},{"p":"E3","x":1500,"y":8},{"p":"E3","x":1650,"y":8.6},{"p":"E3","x":1800,"y":7.5},{"p":"E3","x":2000,"y":6},{"p":"E3","x":2300,"y":4},{"p":"E3","x":2600,"y":2.5},{"p":"E3","x":3000,"y":1.2},{"p":"E3","x":3500,"y":0.4},{"p":"E3","x":4000,"y":0},{"p":"E3","x":10000,"y":0},
{"p":"E4","x":1,"y":0},{"p":"E4","x":8,"y":0},{"p":"E4","x":10,"y":0.3},{"p":"E4","x":15,"y":0.5},{"p":"E4","x":25,"y":0.7},{"p":"E4","x":40,"y":0.8},{"p":"E4","x":60,"y":1},{"p":"E4","x":90,"y":1.2},{"p":"E4","x":130,"y":1.5},{"p":"E4","x":180,"y":1.8},{"p":"E4","x":250,"y":2.2},{"p":"E4","x":330,"y":2.5},{"p":"E4","x":420,"y":3},{"p":"E4","x":520,"y":3.5},{"p":"E4","x":620,"y":4.5},{"p":"E4","x":700,"y":6},{"p":"E4","x":770,"y":8},{"p":"E4","x":830,"y":10},{"p":"E4","x":880,"y":11},{"p":"E4","x":930,"y":11.8},{"p":"E4","x":980,"y":11},{"p":"E4","x":1040,"y":10},{"p":"E4","x":1120,"y":8},{"p":"E4","x":1220,"y":5.5},{"p":"E4","x":1350,"y":3},{"p":"E4","x":1500,"y":1.5},{"p":"E4","x":1700,"y":0.5},{"p":"E4","x":2000,"y":0},{"p":"E4","x":10000,"y":0},
{"p":"F1","x":1,"y":5},{"p":"F1","x":1.15,"y":8},{"p":"F1","x":1.3,"y":10},{"p":"F1","x":1.5,"y":11.5},{"p":"F1","x":1.7,"y":12},{"p":"F1","x":1.9,"y":11},{"p":"F1","x":2.1,"y":12},{"p":"F1","x":2.4,"y":10.5},{"p":"F1","x":2.7,"y":11},{"p":"F1","x":3,"y":10},{"p":"F1","x":3.3,"y":9},{"p":"F1","x":3.7,"y":7.5},{"p":"F1","x":4.1,"y":6},{"p":"F1","x":4.6,"y":4.5},{"p":"F1","x":5.2,"y":3.5},{"p":"F1","x":6,"y":2.5},{"p":"F1","x":7,"y":1.5},{"p":"F1","x":8.5,"y":0.8},{"p":"F1","x":10,"y":0.4},{"p":"F1","x":13,"y":0.2},{"p":"F1","x":20,"y":0.1},{"p":"F1","x":10000,"y":0},
{"p":"F2","x":1,"y":0},{"p":"F2","x":15,"y":0},{"p":"F2","x":20,"y":0.3},{"p":"F2","x":35,"y":0.5},{"p":"F2","x":60,"y":0.8},{"p":"F2","x":100,"y":1.2},{"p":"F2","x":150,"y":1.8},{"p":"F2","x":220,"y":2.5},{"p":"F2","x":300,"y":3.2},{"p":"F2","x":400,"y":4},{"p":"F2","x":520,"y":5},{"p":"F2","x":650,"y":6},{"p":"F2","x":800,"y":7.5},{"p":"F2","x":950,"y":8.5},{"p":"F2","x":1100,"y":10},{"p":"F2","x":1250,"y":11.5},{"p":"F2","x":1400,"y":12.5},{"p":"F2","x":1550,"y":13},{"p":"F2","x":1700,"y":14},{"p":"F2","x":1850,"y":15},{"p":"F2","x":2000,"y":14},{"p":"F2","x":2150,"y":15.5},{"p":"F2","x":2300,"y":13},{"p":"F2","x":2550,"y":10},{"p":"F2","x":2800,"y":7},{"p":"F2","x":3100,"y":4.5},{"p":"F2","x":3500,"y":2.5},{"p":"F2","x":4000,"y":1},{"p":"F2","x":4800,"y":0.3},{"p":"F2","x":5500,"y":0},{"p":"F2","x":10000,"y":0},
{"p":"F3","x":1,"y":0},{"p":"F3","x":80,"y":0},{"p":"F3","x":100,"y":0.3},{"p":"F3","x":150,"y":0.6},{"p":"F3","x":200,"y":1},{"p":"F3","x":280,"y":1.8},{"p":"F3","x":360,"y":2.8},{"p":"F3","x":450,"y":4.5},{"p":"F3","x":530,"y":7},{"p":"F3","x":600,"y":10},{"p":"F3","x":670,"y":13},{"p":"F3","x":740,"y":15.5},{"p":"F3","x":810,"y":17},{"p":"F3","x":880,"y":18.5},{"p":"F3","x":950,"y":20},{"p":"F3","x":1020,"y":19},{"p":"F3","x":1100,"y":20.5},{"p":"F3","x":1180,"y":18},{"p":"F3","x":1280,"y":15},{"p":"F3","x":1400,"y":11},{"p":"F3","x":1550,"y":7},{"p":"F3","x":1750,"y":4},{"p":"F3","x":2000,"y":2},{"p":"F3","x":2300,"y":0.8},{"p":"F3","x":2700,"y":0.2},{"p":"F3","x":3000,"y":0},{"p":"F3","x":10000,"y":0},
{"p":"F4","x":1,"y":0},{"p":"F4","x":6,"y":0},{"p":"F4","x":8,"y":0.2},{"p":"F4","x":12,"y":0.4},{"p":"F4","x":20,"y":0.6},{"p":"F4","x":30,"y":0.9},{"p":"F4","x":45,"y":1.3},{"p":"F4","x":60,"y":2},{"p":"F4","x":75,"y":3},{"p":"F4","x":90,"y":4.2},{"p":"F4","x":105,"y":5},{"p":"F4","x":120,"y":4.5},{"p":"F4","x":135,"y":3.5},{"p":"F4","x":155,"y":2.8},{"p":"F4","x":180,"y":2.5},{"p":"F4","x":210,"y":3},{"p":"F4","x":250,"y":3.8},{"p":"F4","x":300,"y":5},{"p":"F4","x":350,"y":6.5},{"p":"F4","x":410,"y":8},{"p":"F4","x":470,"y":10},{"p":"F4","x":540,"y":11.5},{"p":"F4","x":600,"y":13},{"p":"F4","x":660,"y":14},{"p":"F4","x":720,"y":15},{"p":"F4","x":780,"y":16},{"p":"F4","x":840,"y":15.5},{"p":"F4","x":900,"y":16.5},{"p":"F4","x":960,"y":14},{"p":"F4","x":1030,"y":12},{"p":"F4","x":1120,"y":9},{"p":"F4","x":1220,"y":6},{"p":"F4","x":1350,"y":3.5},{"p":"F4","x":1500,"y":1.8},{"p":"F4","x":1700,"y":0.6},{"p":"F4","x":1900,"y":0},{"p":"F4","x":10000,"y":0}
]},
"vconcat":[
{"title":{"text":"A","orient":"left","angle":0,"anchor":"middle","frame":"bounds","offset":34,"dx":0,"dy":-26,"fontSize":23},
 "hconcat":[
 {"width":205,"height":95,"title":{"text":"5.5","dx":24},
  "encoding":{"x":{"field":"x","type":"quantitative","scale":{"type":"log","domain":[1,10000]},"axis":{"title":"control"}},"y":{"field":"y","type":"quantitative","scale":{"domain":[0,64]},"axis":{"values":[0,16,32,48,64],"title":"Events"}}},
  "layer":[{"data":{"name":"g"},"transform":[{"filter":"datum.p=='A1'"}],"layer":[{"mark":"line","encoding":{}},{"mark":"point","encoding":{}},{"transform":[{"filter":"isValid(datum.t)"}],"mark":"text","encoding":{"text":{"field":"t"}}}]},{"data":{"name":"h"},"transform":[{"filter":"datum.p=='A1'"}],"mark":"area","encoding":{}}]},
 {"width":205,"height":95,"title":{"text":"264.57"},
  "encoding":{"x":{"field":"x","type":"quantitative","scale":{"type":"log","domain":[1,10000]},"axis":{"title":"Class I"}},"y":{"field":"y","type":"quantitative","scale":{"domain":[0,64]},"axis":{"values":[0,16,32,48,64],"title":"Events"}}},
  "layer":[{"data":{"name":"g"},"transform":[{"filter":"datum.p=='A2'"}],"layer":[{"mark":"line","encoding":{}},{"mark":"point","encoding":{}},{"transform":[{"filter":"isValid(datum.t)"}],"mark":"text","encoding":{"text":{"field":"t"}}}]},{"data":{"name":"h"},"transform":[{"filter":"datum.p=='A2'"}],"mark":"area","encoding":{}}]},
 {"width":205,"height":95,"title":{"text":"330.18"},
  "encoding":{"x":{"field":"x","type":"quantitative","scale":{"type":"log","domain":[1,10000]},"axis":{"title":"HLA-DR"}},"y":{"field":"y","type":"quantitative","scale":{"domain":[0,32]},"axis":{"values":[0,8,16,24,32],"title":"Events"}}},
  "layer":[{"data":{"name":"g"},"transform":[{"filter":"datum.p=='A3'"}],"layer":[{"mark":"line","encoding":{}},{"mark":"point","encoding":{}},{"transform":[{"filter":"isValid(datum.t)"}],"mark":"text","encoding":{"text":{"field":"t"}}}]},{"data":{"name":"h"},"transform":[{"filter":"datum.p=='A3'"}],"mark":"area","encoding":{}}]},
 {"width":205,"height":95,"title":{"text":"18.21"},
  "encoding":{"x":{"field":"x","type":"quantitative","scale":{"type":"log","domain":[1,10000]},"axis":{"title":"CD86"}},"y":{"field":"y","type":"quantitative","scale":{"domain":[0,64]},"axis":{"values":[0,16,32,48,64],"title":"Events"}}},
  "layer":[{"data":{"name":"g"},"transform":[{"filter":"datum.p=='A4'"}],"layer":[{"mark":"line","encoding":{}},{"mark":"point","encoding":{}},{"transform":[{"filter":"isValid(datum.t)"}],"mark":"text","encoding":{"text":{"field":"t"}}}]},{"data":{"name":"h"},"transform":[{"filter":"datum.p=='A4'"}],"mark":"area","encoding":{}}]}
 ]},
{"title":{"text":"B","orient":"left","angle":0,"anchor":"middle","frame":"bounds","offset":34,"dx":0,"dy":-26,"fontSize":23},
 "hconcat":[
 {"width":205,"height":95,"title":{"text":"3.97","dx":18},
  "encoding":{"x":{"field":"x","type":"quantitative","scale":{"type":"log","domain":[1,10000]},"axis":{"title":"Control"}},"y":{"field":"y","type":"quantitative","scale":{"domain":[0,32]},"axis":{"values":[0,8,16,24,32],"title":"Events"}}},
  "layer":[{"data":{"name":"g"},"transform":[{"filter":"datum.p=='B1'"}],"layer":[{"mark":"line","encoding":{}},{"mark":"point","encoding":{}},{"transform":[{"filter":"isValid(datum.t)"}],"mark":"text","encoding":{"text":{"field":"t"}}}]},{"data":{"name":"h"},"transform":[{"filter":"datum.p=='B1'"}],"mark":"area","encoding":{}}]},
 {"width":205,"height":95,"title":{"text":"590.68"},
  "encoding":{"x":{"field":"x","type":"quantitative","scale":{"type":"log","domain":[1,10000]},"axis":{"title":"Class I"}},"y":{"field":"y","type":"quantitative","scale":{"domain":[0,32]},"axis":{"values":[0,8,16,24,32],"title":"Events"}}},
  "layer":[{"data":{"name":"g"},"transform":[{"filter":"datum.p=='B2'"}],"layer":[{"mark":"line","encoding":{}},{"mark":"point","encoding":{}},{"transform":[{"filter":"isValid(datum.t)"}],"mark":"text","encoding":{"text":{"field":"t"}}}]},{"data":{"name":"h"},"transform":[{"filter":"datum.p=='B2'"}],"mark":"area","encoding":{}}]},
 {"width":205,"height":95,"title":{"text":"1060.55"},
  "encoding":{"x":{"field":"x","type":"quantitative","scale":{"type":"log","domain":[1,10000]},"axis":{"title":"HLA-DR"}},"y":{"field":"y","type":"quantitative","scale":{"domain":[0,32]},"axis":{"values":[0,8,16,24,32],"title":"Events"}}},
  "layer":[{"data":{"name":"g"},"transform":[{"filter":"datum.p=='B3'"}],"layer":[{"mark":"line","encoding":{}},{"mark":"point","encoding":{}},{"transform":[{"filter":"isValid(datum.t)"}],"mark":"text","encoding":{"text":{"field":"t"}}}]},{"data":{"name":"h"},"transform":[{"filter":"datum.p=='B3'"}],"mark":"area","encoding":{}}]},
 {"width":205,"height":95,"title":{"text":"105.45"},
  "encoding":{"x":{"field":"x","type":"quantitative","scale":{"type":"log","domain":[1,10000]},"axis":{"title":"CD86"}},"y":{"field":"y","type":"quantitative","scale":{"domain":[0,16]},"axis":{"values":[0,4,8,12,16],"title":"Events"}}},
  "layer":[{"data":{"name":"g"},"transform":[{"filter":"datum.p=='B4'"}],"layer":[{"mark":"line","encoding":{}},{"mark":"point","encoding":{}},{"transform":[{"filter":"isValid(datum.t)"}],"mark":"text","encoding":{"text":{"field":"t"}}}]},{"data":{"name":"h"},"transform":[{"filter":"datum.p=='B4'"}],"mark":"area","encoding":{}}]}
 ]},
{"title":{"text":"C","orient":"left","angle":0,"anchor":"middle","frame":"bounds","offset":34,"dx":0,"dy":-26,"fontSize":23},
 "hconcat":[
 {"width":205,"height":95,"title":{"text":"7.04","dx":18},
  "encoding":{"x":{"field":"x","type":"quantitative","scale":{"type":"log","domain":[1,10000]},"axis":{"title":"Control"}},"y":{"field":"y","type":"quantitative","scale":{"domain":[0,32]},"axis":{"values":[0,8,16,24,32],"title":"Events"}}},
  "layer":[{"data":{"name":"g"},"transform":[{"filter":"datum.p=='C1'"}],"layer":[{"mark":"line","encoding":{}},{"mark":"point","encoding":{}},{"transform":[{"filter":"isValid(datum.t)"}],"mark":"text","encoding":{"text":{"field":"t"}}}]},{"data":{"name":"h"},"transform":[{"filter":"datum.p=='C1'"}],"mark":"area","encoding":{}}]},
 {"width":205,"height":95,"title":{"text":"822.35"},
  "encoding":{"x":{"field":"x","type":"quantitative","scale":{"type":"log","domain":[1,10000]},"axis":{"title":"HLA-class I"}},"y":{"field":"y","type":"quantitative","scale":{"domain":[0,32]},"axis":{"values":[0,8,16,24,32],"title":"Events"}}},
  "layer":[{"data":{"name":"g"},"transform":[{"filter":"datum.p=='C2'"}],"layer":[{"mark":"line","encoding":{}},{"mark":"point","encoding":{}},{"transform":[{"filter":"isValid(datum.t)"}],"mark":"text","encoding":{"text":{"field":"t"}}}]},{"data":{"name":"h"},"transform":[{"filter":"datum.p=='C2'"}],"mark":"area","encoding":{}}]},
 {"width":205,"height":95,"title":{"text":"1068.87"},
  "encoding":{"x":{"field":"x","type":"quantitative","scale":{"type":"log","domain":[1,10000]},"axis":{"title":"HLA-DR"}},"y":{"field":"y","type":"quantitative","scale":{"domain":[0,32]},"axis":{"values":[0,8,16,24,32],"title":"Events"}}},
  "layer":[{"data":{"name":"g"},"transform":[{"filter":"datum.p=='C3'"}],"layer":[{"mark":"line","encoding":{}},{"mark":"point","encoding":{}},{"transform":[{"filter":"isValid(datum.t)"}],"mark":"text","encoding":{"text":{"field":"t"}}}]},{"data":{"name":"h"},"transform":[{"filter":"datum.p=='C3'"}],"mark":"area","encoding":{}}]},
 {"width":205,"height":95,"title":{"text":"144.54"},
  "encoding":{"x":{"field":"x","type":"quantitative","scale":{"type":"log","domain":[1,10000]},"axis":{"title":"CD86"}},"y":{"field":"y","type":"quantitative","scale":{"domain":[0,16]},"axis":{"values":[0,4,8,12,16],"title":"Events"}}},
  "layer":[{"data":{"name":"g"},"transform":[{"filter":"datum.p=='C4'"}],"layer":[{"mark":"line","encoding":{}},{"mark":"point","encoding":{}},{"transform":[{"filter":"isValid(datum.t)"}],"mark":"text","encoding":{"text":{"field":"t"}}}]},{"data":{"name":"h"},"transform":[{"filter":"datum.p=='C4'"}],"mark":"area","encoding":{}}]}
 ]},
{"title":{"text":"D","orient":"left","angle":0,"anchor":"middle","frame":"bounds","offset":34,"dx":0,"dy":-26,"fontSize":23},
 "hconcat":[
 {"width":205,"height":95,"title":{"text":"4.64","dx":18},
  "encoding":{"x":{"field":"x","type":"quantitative","scale":{"type":"log","domain":[1,10000]},"axis":{"title":"Control"}},"y":{"field":"y","type":"quantitative","scale":{"domain":[0,32]},"axis":{"values":[0,8,16,24,32],"title":"Events"}}},
  "layer":[{"data":{"name":"g"},"transform":[{"filter":"datum.p=='D1'"}],"layer":[{"mark":"line","encoding":{}},{"mark":"point","encoding":{}},{"transform":[{"filter":"isValid(datum.t)"}],"mark":"text","encoding":{"text":{"field":"t"}}}]},{"data":{"name":"h"},"transform":[{"filter":"datum.p=='D1'"}],"mark":"area","encoding":{}}]},
 {"width":205,"height":95,"title":{"text":"546.16"},
  "encoding":{"x":{"field":"x","type":"quantitative","scale":{"type":"log","domain":[1,10000]},"axis":{"title":"HLA-class I"}},"y":{"field":"y","type":"quantitative","scale":{"domain":[0,32]},"axis":{"values":[0,8,16,24,32],"title":"Events"}}},
  "layer":[{"data":{"name":"g"},"transform":[{"filter":"datum.p=='D2'"}],"layer":[{"mark":"line","encoding":{}},{"mark":"point","encoding":{}},{"transform":[{"filter":"isValid(datum.t)"}],"mark":"text","encoding":{"text":{"field":"t"}}}]},{"data":{"name":"h"},"transform":[{"filter":"datum.p=='D2'"}],"mark":"area","encoding":{}}]},
 {"width":205,"height":95,"title":{"text":"670.33"},
  "encoding":{"x":{"field":"x","type":"quantitative","scale":{"type":"log","domain":[1,10000]},"axis":{"title":"HLA-DR"}},"y":{"field":"y","type":"quantitative","scale":{"domain":[0,32]},"axis":{"values":[0,8,16,24,32],"title":"Events"}}},
  "layer":[{"data":{"name":"g"},"transform":[{"filter":"datum.p=='D3'"}],"layer":[{"mark":"line","encoding":{}},{"mark":"point","encoding":{}},{"transform":[{"filter":"isValid(datum.t)"}],"mark":"text","encoding":{"text":{"field":"t"}}}]},{"data":{"name":"h"},"transform":[{"filter":"datum.p=='D3'"}],"mark":"area","encoding":{}}]},
 {"width":205,"height":95,"title":{"text":"61.05"},
  "encoding":{"x":{"field":"x","type":"quantitative","scale":{"type":"log","domain":[1,10000]},"axis":{"title":"CD86"}},"y":{"field":"y","type":"quantitative","scale":{"domain":[0,32]},"axis":{"values":[0,8,16,24,32],"title":"Events"}}},
  "layer":[{"data":{"name":"g"},"transform":[{"filter":"datum.p=='D4'"}],"layer":[{"mark":"line","encoding":{}},{"mark":"point","encoding":{}},{"transform":[{"filter":"isValid(datum.t)"}],"mark":"text","encoding":{"text":{"field":"t"}}}]},{"data":{"name":"h"},"transform":[{"filter":"datum.p=='D4'"}],"mark":"area","encoding":{}}]}
 ]},
{"title":{"text":"E","orient":"left","angle":0,"anchor":"middle","frame":"bounds","offset":34,"dx":0,"dy":-26,"fontSize":23},
 "hconcat":[
 {"width":205,"height":95,"title":{"text":"3.56","dx":20},
  "encoding":{"x":{"field":"x","type":"quantitative","scale":{"type":"log","domain":[1,10000]},"axis":{"title":"FL1-Height"}},"y":{"field":"y","type":"quantitative","scale":{"domain":[0,16]},"axis":{"values":[0,4,8,12,16],"title":"Events"}}},
  "layer":[{"data":{"name":"g"},"transform":[{"filter":"datum.p=='E1'"}],"layer":[{"mark":"line","encoding":{}},{"mark":"point","encoding":{}},{"transform":[{"filter":"isValid(datum.t)"}],"mark":{"type":"text","fontWeight":"bold","fontSize":21},"encoding":{"text":{"field":"t"}}}]},{"data":{"name":"h"},"transform":[{"filter":"datum.p=='E1'"}],"mark":"area","encoding":{}}]},
 {"width":205,"height":95,"title":{"text":"1846.1","dx":18},
  "encoding":{"x":{"field":"x","type":"quantitative","scale":{"type":"log","domain":[1,10000]},"axis":{"title":"Class I"}},"y":{"field":"y","type":"quantitative","scale":{"domain":[0,16]},"axis":{"values":[0,4,8,12,16],"title":"Events"}}},
  "layer":[{"data":{"name":"g"},"transform":[{"filter":"datum.p=='E2'"}],"layer":[{"mark":"line","encoding":{}},{"mark":"point","encoding":{}},{"transform":[{"filter":"isValid(datum.t)"}],"mark":{"type":"text","fontWeight":"bold","fontSize":21},"encoding":{"text":{"field":"t"}}}]},{"data":{"name":"h"},"transform":[{"filter":"datum.p=='E2'"}],"mark":"area","encoding":{}}]},
 {"width":205,"height":95,"title":{"text":"1056.6"},
  "encoding":{"x":{"field":"x","type":"quantitative","scale":{"type":"log","domain":[1,10000]},"axis":{"title":"HLA-DR"}},"y":{"field":"y","type":"quantitative","scale":{"domain":[0,16]},"axis":{"values":[0,4,8,12,16],"title":"Events"}}},
  "layer":[{"data":{"name":"g"},"transform":[{"filter":"datum.p=='E3'"}],"layer":[{"mark":"line","encoding":{}},{"mark":"point","encoding":{}},{"transform":[{"filter":"isValid(datum.t)"}],"mark":{"type":"text","fontWeight":"bold","fontSize":21},"encoding":{"text":{"field":"t"}}}]},{"data":{"name":"h"},"transform":[{"filter":"datum.p=='E3'"}],"mark":"area","encoding":{}}]},
 {"width":205,"height":95,"title":{"text":"835.4","dx":20},
  "encoding":{"x":{"field":"x","type":"quantitative","scale":{"type":"log","domain":[1,10000]},"axis":{"title":"CD86"}},"y":{"field":"y","type":"quantitative","scale":{"domain":[0,16]},"axis":{"values":[0,4,8,12,16],"title":"Events"}}},
  "layer":[{"data":{"name":"g"},"transform":[{"filter":"datum.p=='E4'"}],"layer":[{"mark":"line","encoding":{}},{"mark":"point","encoding":{}},{"transform":[{"filter":"isValid(datum.t)"}],"mark":{"type":"text","fontWeight":"bold","fontSize":21},"encoding":{"text":{"field":"t"}}}]},{"data":{"name":"h"},"transform":[{"filter":"datum.p=='E4'"}],"mark":"area","encoding":{}}]}
 ]},
{"title":{"text":"F","orient":"left","angle":0,"anchor":"middle","frame":"bounds","offset":34,"dx":0,"dy":-26,"fontSize":23},
 "hconcat":[
 {"width":205,"height":95,"title":{"text":"3.56","dx":20},
  "encoding":{"x":{"field":"x","type":"quantitative","scale":{"type":"log","domain":[1,10000]},"axis":{"title":"FL1-Height"}},"y":{"field":"y","type":"quantitative","scale":{"domain":[0,16]},"axis":{"values":[0,4,8,12,16],"title":"Events"}}},
  "layer":[{"data":{"name":"g"},"transform":[{"filter":"datum.p=='F1'"}],"layer":[{"mark":"line","encoding":{}},{"mark":"point","encoding":{}},{"transform":[{"filter":"isValid(datum.t)"}],"mark":{"type":"text","fontWeight":"bold","fontSize":21},"encoding":{"text":{"field":"t"}}}]},{"data":{"name":"h"},"transform":[{"filter":"datum.p=='F1'"}],"mark":"area","encoding":{}}]},
 {"width":205,"height":95,"title":{"text":"1205"},
  "encoding":{"x":{"field":"x","type":"quantitative","scale":{"type":"log","domain":[1,10000]},"axis":{"title":"HLA-class I"}},"y":{"field":"y","type":"quantitative","scale":{"domain":[0,32]},"axis":{"values":[0,8,16,24,32],"title":"Events"}}},
  "layer":[{"data":{"name":"g"},"transform":[{"filter":"datum.p=='F2'"}],"layer":[{"mark":"line","encoding":{}},{"mark":"point","encoding":{}},{"transform":[{"filter":"isValid(datum.t)"}],"mark":{"type":"text","fontWeight":"bold","fontSize":21},"encoding":{"text":{"field":"t"}}}]},{"data":{"name":"h"},"transform":[{"filter":"datum.p=='F2'"}],"mark":"area","encoding":{}}]},
 {"width":205,"height":95,"title":{"text":"1214.9"},
  "encoding":{"x":{"field":"x","type":"quantitative","scale":{"type":"log","domain":[1,10000]},"axis":{"title":"HLA-DR"}},"y":{"field":"y","type":"quantitative","scale":{"domain":[0,32]},"axis":{"values":[0,8,16,24,32],"title":"Events"}}},
  "layer":[{"data":{"name":"g"},"transform":[{"filter":"datum.p=='F3'"}],"layer":[{"mark":"line","encoding":{}},{"mark":"point","encoding":{}},{"transform":[{"filter":"isValid(datum.t)"}],"mark":{"type":"text","fontWeight":"bold","fontSize":21},"encoding":{"text":{"field":"t"}}}]},{"data":{"name":"h"},"transform":[{"filter":"datum.p=='F3'"}],"mark":"area","encoding":{}}]},
 {"width":205,"height":95,"title":{"text":"585.5","dx":16},
  "encoding":{"x":{"field":"x","type":"quantitative","scale":{"type":"log","domain":[1,10000]},"axis":{"title":"CD86"}},"y":{"field":"y","type":"quantitative","scale":{"domain":[0,16]},"axis":{"values":[0,4,8,12,16],"title":"Events"}}},
  "layer":[{"data":{"name":"g"},"transform":[{"filter":"datum.p=='F4'"}],"layer":[{"mark":"line","encoding":{}},{"mark":"point","encoding":{}},{"transform":[{"filter":"isValid(datum.t)"}],"mark":{"type":"text","fontWeight":"bold","fontSize":21},"encoding":{"text":{"field":"t"}}}]},{"data":{"name":"h"},"transform":[{"filter":"datum.p=='F4'"}],"mark":"area","encoding":{}}]}
 ]}
]
}
